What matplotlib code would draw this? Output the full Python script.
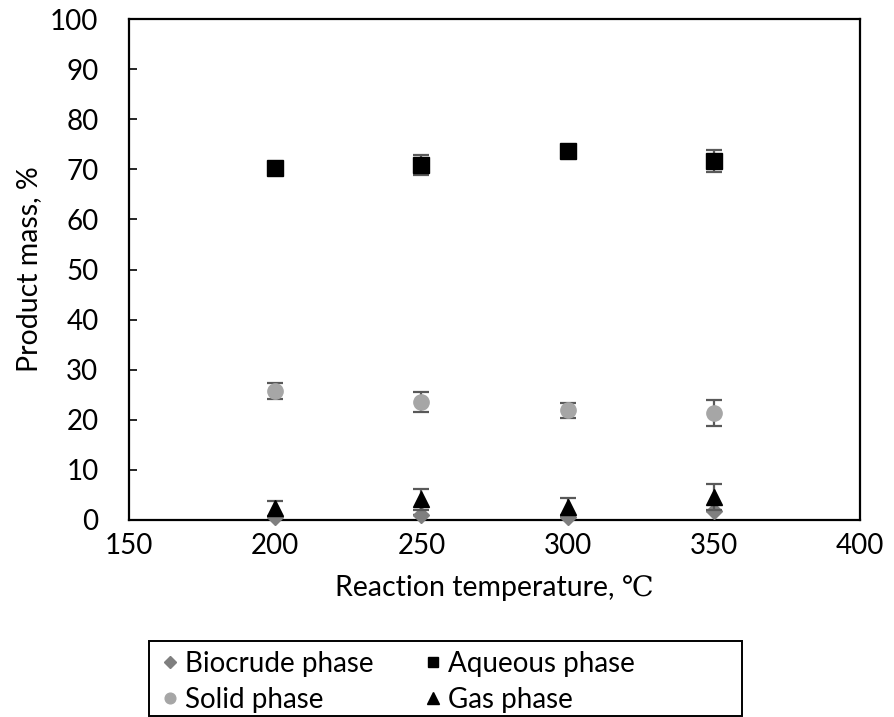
import matplotlib
matplotlib.use("Agg")
import matplotlib.pyplot as plt
from matplotlib.patches import Rectangle

plt.rcParams['font.family'] = ['Lato', 'DejaVu Serif']

temperature = [200, 250, 300, 350]

biocrude = [0.6, 0.9, 0.6, 1.7]
biocrude_err = [0.0, 0.0, 0.0, 0.0]

aqueous = [70.3, 70.9, 73.7, 71.6]
aqueous_err = [0.8, 2.0, 0.5, 2.2]

solid = [25.8, 23.6, 21.9, 21.4]
solid_err = [1.6, 2.0, 1.5, 2.6]

gas = [2.3, 4.1, 2.6, 4.5]
gas_err = [1.5, 2.1, 1.7, 2.6]

x_ticks = [150, 200, 250, 300, 350, 400]
y_ticks = [0, 10, 20, 30, 40, 50, 60, 70, 80, 90, 100]

W, H = 895, 717
fig = plt.figure(figsize=(W / 100, H / 100), dpi=100)
ax = fig.add_axes([129 / W, 1 - 520 / H, (860 - 129) / W, (520 - 19) / H])

err_kw = dict(ecolor='#595959', elinewidth=1.6, capsize=6, capthick=1.6,
              linestyle='none', clip_on=False)

h_bio = ax.errorbar(temperature, biocrude, yerr=biocrude_err, fmt='D',
                    color='#7f7f7f', markersize=8.5, zorder=3, **err_kw)
h_sol = ax.errorbar(temperature, solid, yerr=solid_err, fmt='o',
                    color='#a6a6a6', markersize=11, zorder=3, **err_kw)
h_aq = ax.errorbar(temperature, aqueous, yerr=aqueous_err, fmt='s',
                   color='black', markersize=11, zorder=3, **err_kw)
h_gas = ax.errorbar(temperature, gas, yerr=gas_err, fmt='^',
                    color='black', markersize=11.5, zorder=4, **err_kw)

ax.set_xlim(150, 400)
ax.set_ylim(0, 100)
ax.set_xticks(x_ticks)
ax.set_yticks(y_ticks)
ax.tick_params(axis='x', length=0, pad=9, labelsize=20)
ax.tick_params(axis='y', direction='in', length=6, width=1.2, pad=22, labelsize=20)
for s in ax.spines.values():
    s.set_linewidth(1.6)
    s.set_color('black')

ax.set_xlabel('Reaction temperature, ℃', fontsize=20.5, labelpad=12)
ax.set_ylabel('Product mass, %', fontsize=20.5, labelpad=6)

# legend box
fig.patches.append(Rectangle((149 / W, 1 - 716 / H), (742 - 149) / W, (716 - 641) / H,
                             transform=fig.transFigure, fill=False,
                             edgecolor='black', linewidth=1.4))

leg = fig.legend([h_bio[0], h_sol[0], h_aq[0], h_gas[0]],
                 ['Biocrude phase', 'Solid phase', 'Aqueous phase', 'Gas phase'],
                 ncol=2, loc='upper left',
                 bbox_to_anchor=(162 / W, 1 - 651 / H),
                 fontsize=20, frameon=False, borderpad=0.0, borderaxespad=0.0,
                 handlelength=0.6, handletextpad=0.22, labelspacing=0.35,
                 columnspacing=1.85, markerscale=0.7)

fig.savefig('out.png', dpi=100)
